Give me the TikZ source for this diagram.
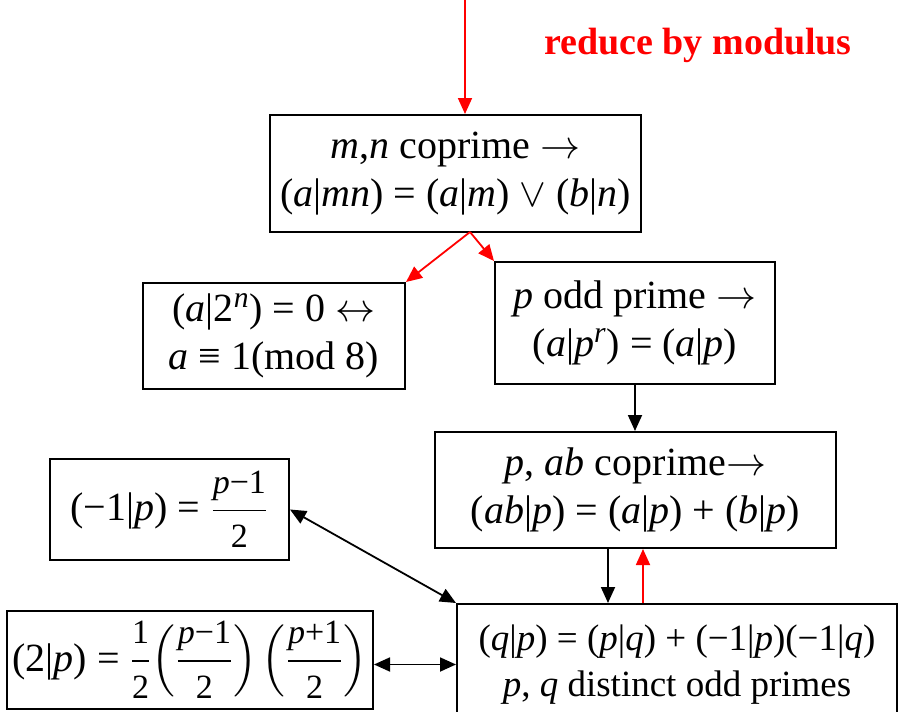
\documentclass[tikz,border=0pt]{standalone}
\usepackage{amsmath}
\usepackage{mathptmx}
\usepackage[no-math]{fontspec}
\setmainfont{Liberation Serif}
\usetikzlibrary{arrows.meta}
\definecolor{ink}{HTML}{000000}
\definecolor{red}{HTML}{FF0000}
\newcommand\mi[1]{\textit{#1}}
\newcommand\fr[2]{$\dfrac{\text{\fontsize{17}{17}\selectfont #1}}{\text{\fontsize{17}{17}\selectfont #2}}$}

\begin{document}
\begin{tikzpicture}[x=0.5pt,y=-0.5pt,font=\fontsize{20}{21}\selectfont,
  box/.style={draw=ink,line width=1pt,align=center,inner sep=0pt},
  blk/.style={draw=ink,line width=0.9pt,-{Triangle[length=8pt,width=7pt]}},
  rd/.style={draw=red,line width=0.9pt,-{Triangle[length=8pt,width=7pt]}},
  both/.style={draw=ink,line width=0.9pt,{Triangle[length=8pt,width=7pt]}-{Triangle[length=8pt,width=7pt]}}]
\useasboundingbox (0,0) rectangle (901,712);
\clip (0,0) rectangle (901,712);
\node[text=red,font=\fontsize{19}{21}\selectfont\bfseries] (title) at (698,45) {reduce by modulus};
\node[box,minimum width=371*0.5pt,minimum height=117*0.5pt] (coprime) at (455.5,173.5) {\mi{m},\mi{n} coprime $\rightarrow$\\[3pt] (\mi{a}|\mi{mn}) = (\mi{a}|\mi{m}) $\vee$ (\mi{b}|\mi{n})};
\node[box,minimum width=262*0.5pt,minimum height=106*0.5pt] (two) at (274,336) {(\mi{a}|2\textsuperscript{\mi{n}}) = 0 $\leftrightarrow$\\[3pt] \mi{a} ≡ 1(mod 8)};
\node[box,minimum width=280*0.5pt,minimum height=122*0.5pt] (odd) at (635,323) {\mi{p} odd prime $\rightarrow$\\[3pt] (\mi{a}|\mi{p}\textsuperscript{\mi{r}}) = (\mi{a}|\mi{p})};
\node[box,minimum width=401*0.5pt,minimum height=116*0.5pt] (mult) at (635.5,490) {\mi{p}, \mi{ab} coprime$\rightarrow$\\[3pt] (\mi{ab}|\mi{p}) = (\mi{a}|\mi{p}) + (\mi{b}|\mi{p})};
\node[box,minimum width=440*0.5pt,minimum height=121*0.5pt,font=\fontsize{18.5}{20}\selectfont] (recip) at (677,664.5) {(\mi{q}|\mi{p}) = (\mi{p}|\mi{q}) + (−1|\mi{p})(−1|\mi{q})\\[3pt] \mi{p}, \mi{q} distinct odd primes};
\node[box,minimum width=239*0.5pt,minimum height=101*0.5pt] (minus) at (169.5,509.5) {(−1|\mi{p}) = \fr{\mi{p}−1}{2}};
\node[box,minimum width=366*0.5pt,minimum height=98*0.5pt] (twop) at (190,660) {(2|\mi{p}) = \fr{1}{2}$\left(\text{\fr{\mi{p}−1}{2}}\right)\left(\text{\fr{\mi{p}+1}{2}}\right)$};
% connectors
\coordinate (in) at (465,0);
\coordinate (fork) at (470,232);
\coordinate (down) at (608,0);
\coordinate (up) at (643,0);
\draw[rd] (in) -- (in |- coprime.north);
\draw[rd] (fork) -- (two.north east);
\draw[rd] (fork) -- (odd.north west);
\draw[blk] (odd.south) -- (odd.south |- mult.north);
\draw[blk] (mult.south -| down) -- (recip.north -| down);
\draw[rd] (recip.north -| up) -- (mult.south -| up);
\draw[both] (minus.east) -- (recip.north west);
\draw[both] (twop.east |- recip.west) -- (recip.west);
\end{tikzpicture}
\end{document}
